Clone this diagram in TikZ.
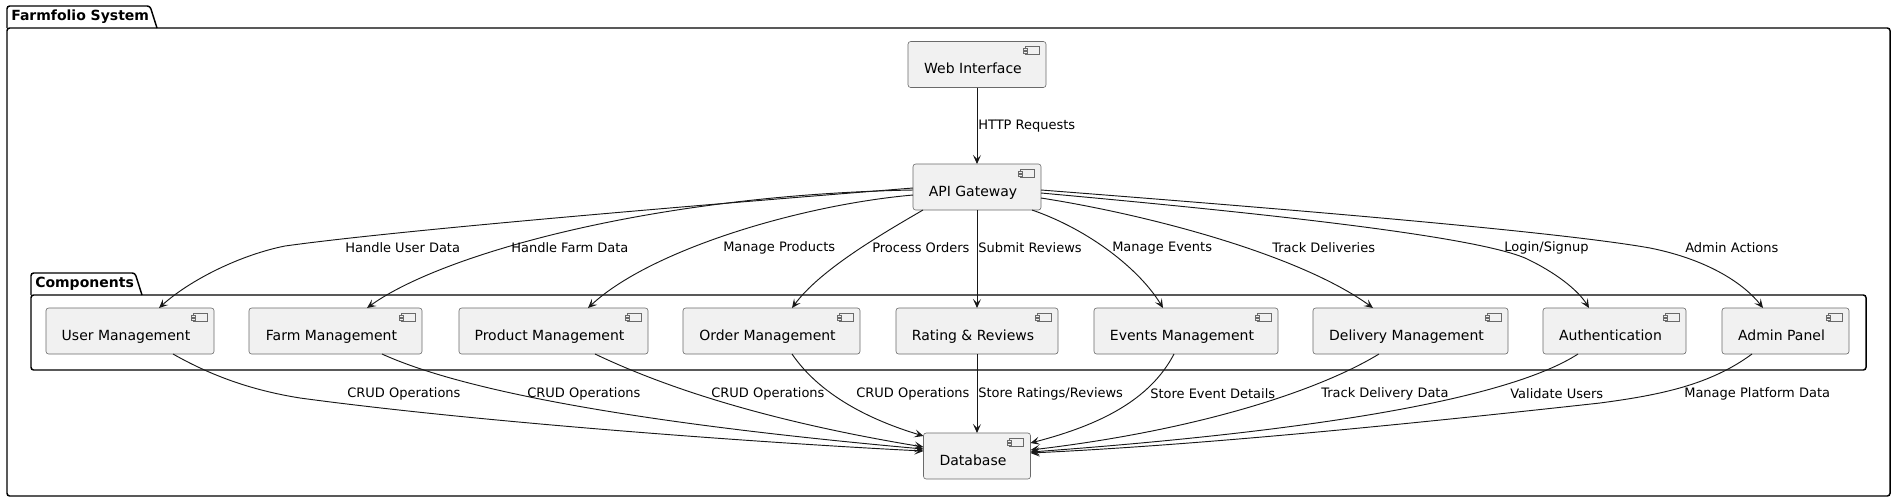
\documentclass[tikz,border=0pt]{standalone}
\usepackage{fontspec}
\setmainfont{DejaVu Sans}
\usetikzlibrary{calc,arrows.meta}
\definecolor{boxfill}{HTML}{F1F1F1}
\definecolor{linec}{HTML}{181818}
\definecolor{boxline}{HTML}{6A6A6A}
\newcommand{\cicon}[1]{%
  \draw[boxline, line width=0.45pt, fill=boxfill] ($(#1.north east)+(-21,5)$) rectangle ($(#1.north east)+(-7,13)$);
  \draw[boxline, line width=0.45pt, fill=boxfill] ($(#1.north east)+(-23,7)$) rectangle ($(#1.north east)+(-19,9)$);
  \draw[boxline, line width=0.45pt, fill=boxfill] ($(#1.north east)+(-23,10)$) rectangle ($(#1.north east)+(-19,12)$);}
\begin{document}
\begin{tikzpicture}[x=0.75pt,y=-0.75pt,
  box/.style={draw=boxline, fill=boxfill, line width=0.45pt, rounded corners=2pt, minimum height=34.5pt, inner sep=0pt, outer sep=0pt},
  btxt/.style={anchor=base, font=\fontsize{10.5}{12}\selectfont, inner sep=0pt},
  elab/.style={anchor=west, font=\fontsize{9.75}{11}\selectfont, inner sep=0pt},
  conn/.style={draw=linec, line width=0.7pt, -{Stealth[length=6.75pt,width=6pt,inset=3pt]}},
  frame/.style={draw=black, line width=1.1pt, rounded corners=2pt},
  ftitle/.style={anchor=west, font=\bfseries\fontsize{10.5}{12}\selectfont, inner sep=0pt}]
\useasboundingbox (0,0) rectangle (1896,501);
\fill[white] (0,0) rectangle (1896,501);

% packages
\draw[frame] (7,28) -- (7,6) -- (150,6) -- (157,28);
\draw[frame] (7,28) rectangle (1890,496);
\node[ftitle] (systitle) at (11,17) {Farmfolio System};
\draw[frame] (31,295) -- (31,273) -- (135,273) -- (142,295);
\draw[frame] (31,295) rectangle (1866,370);
\node[ftitle] (comptitle) at (35,284) {Components};

% boxes
\node[box, minimum width=103.5pt] (web) at (977,64.5) {};
\node[btxt] at ($(web.north)+(-4,32)$) {Web Interface};
\node[box, minimum width=96pt] (api) at (977,187) {};
\node[btxt] at ($(api.north)+(-4,32)$) {API Gateway};
\node[box, minimum width=80.25pt] (db) at (977,456) {};
\node[btxt] at ($(db.north)+(-4,32)$) {Database};

\node[box, minimum width=126pt] (user) at (130,331) {};
\node[btxt] at ($(user.north)+(-4,32)$) {User Management};
\node[box, minimum width=129.75pt] (farm) at (335.5,331) {};
\node[btxt] at ($(farm.north)+(-4,32)$) {Farm Management};
\node[box, minimum width=141.75pt] (prod) at (553.5,331) {};
\node[btxt] at ($(prod.north)+(-4,32)$) {Product Management};
\node[box, minimum width=132.75pt] (order) at (771.5,331) {};
\node[btxt] at ($(order.north)+(-4,32)$) {Order Management};
\node[box, minimum width=121.5pt] (rating) at (977,331) {};
\node[btxt] at ($(rating.north)+(-4,32)$) {Rating \& Reviews};
\node[box, minimum width=138pt] (events) at (1186,331) {};
\node[btxt] at ($(events.north)+(-4,32)$) {Events Management};
\node[box, minimum width=146.25pt] (delivery) at (1410.5,331) {};
\node[btxt] at ($(delivery.north)+(-4,32)$) {Delivery Management};
\node[box, minimum width=107.25pt] (auth) at (1614.5,331) {};
\node[btxt] at ($(auth.north)+(-4,32)$) {Authentication};
\node[box, minimum width=95.25pt] (admin) at (1785.5,331) {};
\node[btxt] at ($(admin.north)+(-4,32)$) {Admin Panel};

\foreach \b in {web,api,db,user,farm,prod,order,rating,events,delivery,auth,admin}{\cicon{\b}}

% web -> api
\draw[conn] (web.south) -- (api.north);
\node[elab] (lhttp) at (978,126) {HTTP Requests};

% api -> components
\draw[conn] ($(api.north west)+(0,24)$) .. controls (700,205) and (400,230) .. (285,246) .. controls (240,255) and (190,280) .. ($(user.north)+(29,0)$);
\draw[conn] ($(api.north west)+(0,26)$) .. controls (650,195) and (440,255) .. ($(farm.north)+(31.5,0)$);
\draw[conn] ($(api.north west)+(0,31)$) .. controls (800,205) and (650,250) .. ($(prod.north)+(34.5,0)$);
\draw[conn] ($(api.south west)+(10,0)$) .. controls (880,235) and (820,270) .. ($(order.north)+(20.5,0)$);
\draw[conn] (api.south) -- (rating.north);
\draw[conn] ($(api.south east)+(-9,0)$) .. controls (1090,230) and (1140,270) .. ($(events.north)+(-23,0)$);
\draw[conn] ($(api.north east)+(0,34)$) .. controls (1150,215) and (1300,255) .. ($(delivery.north)+(-37.5,0)$);
\draw[conn] ($(api.north east)+(0,29)$) .. controls (1250,212) and (1470,235) .. (1525,258) .. controls (1555,272) and (1578,290) .. ($(auth.north)+(-25.5,0)$);
\draw[conn] ($(api.north east)+(0,26)$) .. controls (1300,210) and (1560,232) .. (1650,248) .. controls (1710,260) and (1745,285) .. ($(admin.north)+(-22.5,0)$);

\node[elab] (l1) at (345,248) {Handle User Data};
\node[elab] (l2) at (511,248) {Handle Farm Data};
\node[elab] (l3) at (723,248) {Manage Products};
\node[elab] (l4) at (872,248) {Process Orders};
\node[elab] (l5) at (978,248) {Submit Reviews};
\node[elab] (l6) at (1112,248) {Manage Events};
\node[elab] (l7) at (1272,248) {Track Deliveries};
\node[elab] (l8) at (1504,248) {Login/Signup};
\node[elab] (l9) at (1685,248) {Admin Actions};

% components -> db
\draw[conn] ($(user.south)+(43,0)$) .. controls (210,375) and (250,390) .. (300,398) .. controls (500,425) and (800,445) .. ($(db.north west)+(0,18)$);
\draw[conn] ($(farm.south)+(46.5,0)$) .. controls (450,385) and (600,420) .. ($(db.north west)+(0,16)$);
\draw[conn] ($(prod.south)+(41.5,0)$) .. controls (660,385) and (760,420) .. ($(db.north west)+(0,14)$);
\draw[conn] ($(order.south)+(20.5,0)$) .. controls (820,395) and (870,420) .. ($(db.north west)+(0,3)$);
\draw[conn] (rating.south) -- (db.north);
\draw[conn] ($(events.south)+(-12,0)$) .. controls (1150,400) and (1100,425) .. ($(db.north east)+(0,10)$);
\draw[conn] ($(delivery.south)+(-31.5,0)$) .. controls (1320,390) and (1200,430) .. ($(db.north east)+(0,17)$);
\draw[conn] ($(auth.south)+(-36.5,0)$) .. controls (1530,385) and (1400,425) .. ($(db.north east)+(0,19)$);
\draw[conn] ($(admin.south)+(-33.5,0)$) .. controls (1710,385) and (1660,395) .. (1600,403) .. controls (1400,425) and (1200,445) .. ($(db.north east)+(0,20)$);

\node[elab] (b1) at (347,394) {CRUD Operations};
\node[elab] (b2) at (527,394) {CRUD Operations};
\node[elab] (b3) at (711,394) {CRUD Operations};
\node[elab] (b4) at (856,394) {CRUD Operations};
\node[elab] (b5) at (978,394) {Store Ratings/Reviews};
\node[elab] (b6) at (1150,394) {Store Event Details};
\node[elab] (b7) at (1321,394) {Track Delivery Data};
\node[elab] (b8) at (1510,394) {Validate Users};
\node[elab] (b9) at (1684,394) {Manage Platform Data};
\end{tikzpicture}
\end{document}
